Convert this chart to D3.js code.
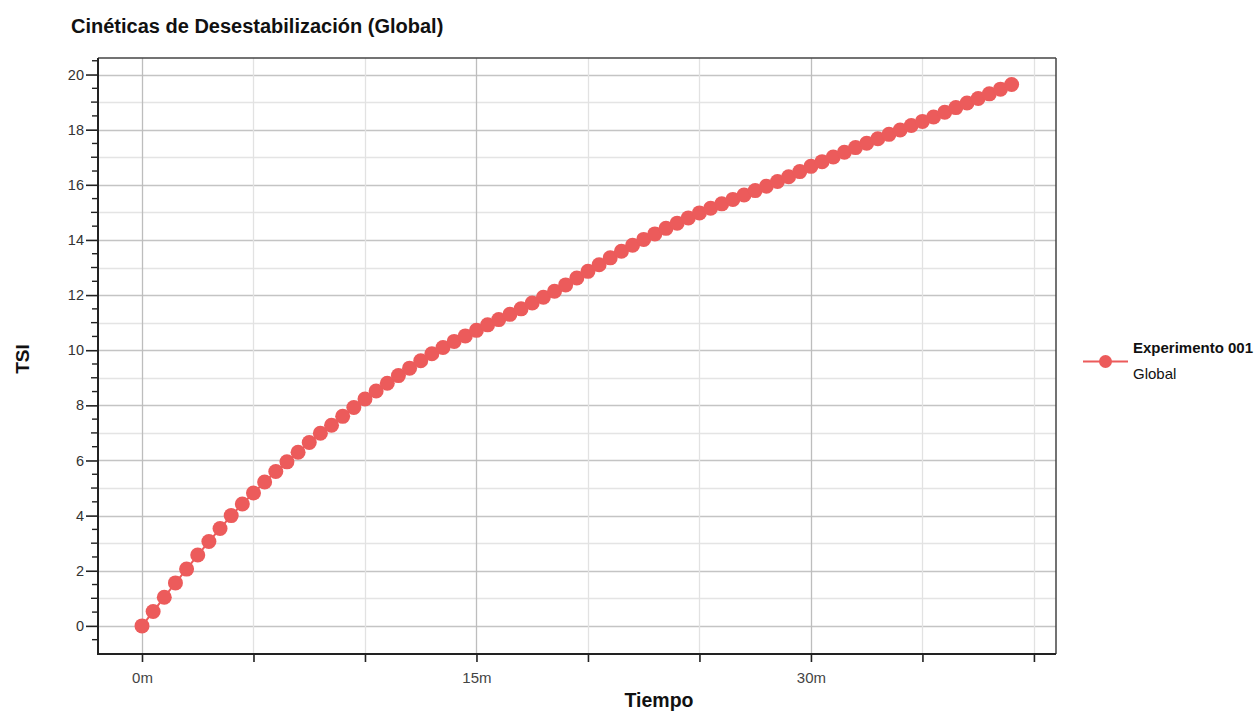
<!DOCTYPE html>
<html>
<head>
<meta charset="utf-8">
<script src="https://cdn.jsdelivr.net/npm/d3@7"></script>
<style>
  html, body { margin: 0; padding: 0; background: #fff; }
  svg { display: block; font-family: "Liberation Sans", Arial, sans-serif; }
</style>
</head>
<body>
<svg id="chart" width="1258" height="713"></svg>
<script>
// ---- Data ----
const chartTitle = "Cinéticas de Desestabilización (Global)";
const xAxisTitle = "Tiempo";
const yAxisTitle = "TSI";
const seriesName = "Experimento 001";
const seriesSub = "Global";

// time in minutes (one reading every 30 s)
const times = [
  0, 0.5, 1, 1.5, 2, 2.5, 3, 3.5, 4, 4.5, 5, 5.5, 6, 6.5, 7, 7.5, 8, 8.5, 9, 9.5,
  10, 10.5, 11, 11.5, 12, 12.5, 13, 13.5, 14, 14.5, 15, 15.5, 16, 16.5, 17, 17.5, 18, 18.5, 19, 19.5,
  20, 20.5, 21, 21.5, 22, 22.5, 23, 23.5, 24, 24.5, 25, 25.5, 26, 26.5, 27, 27.5, 28, 28.5, 29, 29.5,
  30, 30.5, 31, 31.5, 32, 32.5, 33, 33.5, 34, 34.5, 35, 35.5, 36, 36.5, 37, 37.5, 38, 38.5, 39
];
const tsi = [
  0.00, 0.52, 1.04, 1.56, 2.06, 2.57, 3.06, 3.53, 4.00, 4.42, 4.82, 5.22, 5.60, 5.95, 6.30, 6.65, 6.99, 7.28, 7.60, 7.92,
  8.23, 8.52, 8.80, 9.08, 9.35, 9.62, 9.87, 10.10, 10.32, 10.52, 10.72, 10.92, 11.11, 11.30, 11.50, 11.71, 11.92, 12.14, 12.37, 12.62,
  12.86, 13.10, 13.35, 13.59, 13.81, 14.02, 14.22, 14.42, 14.61, 14.80, 14.98, 15.15, 15.31, 15.47, 15.63, 15.79, 15.95, 16.12, 16.29, 16.48,
  16.67, 16.84, 17.01, 17.18, 17.35, 17.51, 17.67, 17.83, 17.99, 18.15, 18.30, 18.46, 18.63, 18.80, 18.97, 19.13, 19.30, 19.47, 19.64
];

const xTickValues = [0, 5, 10, 15, 20, 25, 30, 35, 40];
const xTickLabels = { 0: "0m", 15: "15m", 30: "30m" };
const xMajorGrid = [0, 15, 30];
const yTickLabels = [0, 2, 4, 6, 8, 10, 12, 14, 16, 18, 20];

// ---- Layout ----
const svg = d3.select("#chart");
const plot = { left: 98, right: 1056, top: 58, bottom: 654 };
const color = "#ec5b5b";

const x = d3.scaleLinear().domain([-1.973, 40.99]).range([plot.left, plot.right]);
const y = d3.scaleLinear().domain([-1.02, 20.6]).range([plot.bottom, plot.top]);

// gridlines
const g = svg.append("g");
const yGrid = d3.range(0, 21, 1);
g.selectAll("line.hg").data(yGrid).join("line")
  .attr("x1", plot.left).attr("x2", plot.right)
  .attr("y1", d => Math.round(y(d)) + 0.5).attr("y2", d => Math.round(y(d)) + 0.5)
  .attr("stroke", d => d % 2 === 0 ? "#c4c4c4" : "#e4e4e4").attr("stroke-width", 1.3);
g.selectAll("line.vg").data(xTickValues).join("line")
  .attr("y1", plot.top).attr("y2", plot.bottom)
  .attr("x1", d => Math.round(x(d)) + 0.5).attr("x2", d => Math.round(x(d)) + 0.5)
  .attr("stroke", d => xMajorGrid.includes(d) ? "#bdbdbd" : "#e2e2e2").attr("stroke-width", 1.3);

// frame top/right
svg.append("line").attr("x1", plot.left).attr("x2", plot.right).attr("y1", plot.top).attr("y2", plot.top)
  .attr("stroke", "#444").attr("stroke-width", 1.5);
svg.append("line").attr("x1", plot.right).attr("x2", plot.right).attr("y1", plot.top).attr("y2", plot.bottom)
  .attr("stroke", "#444").attr("stroke-width", 1.5);

// y axis (left)
const yAxisG = svg.append("g").attr("transform", `translate(${plot.left},0)`);
yAxisG.call(d3.axisLeft(y).tickValues(yTickLabels).tickSize(12).tickPadding(2).tickFormat(d3.format("d")));
yAxisG.select(".domain").remove();
yAxisG.selectAll(".tick line").attr("stroke", "#222").attr("stroke-width", 1.6);
yAxisG.selectAll(".tick text").attr("font-size", 14.5).attr("fill", "#333")
  .attr("font-family", "'Liberation Sans', Arial, sans-serif");
const yMinor = d3.range(-0.5, 20.6, 0.5).filter(v => v % 2 !== 0);
yAxisG.selectAll("line.minor").data(yMinor).join("line").attr("class", "minor")
  .attr("x1", d => (Number.isInteger(d) ? -7 : -6)).attr("x2", 0)
  .attr("y1", d => y(d)).attr("y2", d => y(d))
  .attr("stroke", "#222").attr("stroke-width", 1.4);
svg.append("line").attr("x1", plot.left).attr("x2", plot.left).attr("y1", plot.top).attr("y2", plot.bottom + 1)
  .attr("stroke", "#222").attr("stroke-width", 2);

// x axis (bottom)
const xAxisG = svg.append("g").attr("transform", `translate(0,${plot.bottom})`);
xAxisG.call(d3.axisBottom(x).tickValues(xTickValues).tickSize(8).tickPadding(10)
  .tickFormat(d => xTickLabels[d] || ""));
xAxisG.select(".domain").remove();
xAxisG.selectAll(".tick line").attr("stroke", "#222").attr("stroke-width", 1.6);
xAxisG.selectAll(".tick text").attr("font-size", 15).attr("fill", "#444")
  .attr("font-family", "'Liberation Sans', Arial, sans-serif");
svg.append("line").attr("x1", plot.left - 1).attr("x2", plot.right).attr("y1", plot.bottom).attr("y2", plot.bottom)
  .attr("stroke", "#222").attr("stroke-width", 2);

// data line + markers
const pts = times.map((t, i) => ({ t, v: tsi[i] }));
svg.append("path").datum(pts)
  .attr("d", d3.line().x(d => x(d.t)).y(d => y(d.v)))
  .attr("fill", "none").attr("stroke", color).attr("stroke-width", 2);
svg.append("g").selectAll("circle").data(pts).join("circle")
  .attr("cx", d => x(d.t)).attr("cy", d => y(d.v)).attr("r", 7.5)
  .attr("fill", color);

// titles
svg.append("text").attr("x", 71).attr("y", 33).text(chartTitle)
  .attr("font-size", 20).attr("font-weight", "bold").attr("fill", "#111");
svg.append("text").attr("x", 659).attr("y", 707).attr("text-anchor", "middle")
  .text(xAxisTitle).attr("font-size", 19.5).attr("font-weight", "bold").attr("fill", "#111");
svg.append("text").attr("transform", `translate(29,359) rotate(-90)`)
  .attr("text-anchor", "middle").text(yAxisTitle)
  .attr("font-size", 19).attr("font-weight", "bold").attr("fill", "#111");

// legend
const lg = svg.append("g").attr("transform", "translate(1083,361.5)");
lg.append("line").attr("x1", 0).attr("x2", 45).attr("y1", 0).attr("y2", 0).attr("stroke", color).attr("stroke-width", 2);
lg.append("circle").attr("cx", 22.5).attr("cy", 0).attr("r", 6.5).attr("fill", color);
lg.append("text").attr("x", 50).attr("y", -8.5).text(seriesName)
  .attr("font-size", 15).attr("font-weight", "bold").attr("fill", "#111");
lg.append("text").attr("x", 50).attr("y", 17.5).text(seriesSub)
  .attr("font-size", 15).attr("fill", "#111");
</script>
</body>
</html>
